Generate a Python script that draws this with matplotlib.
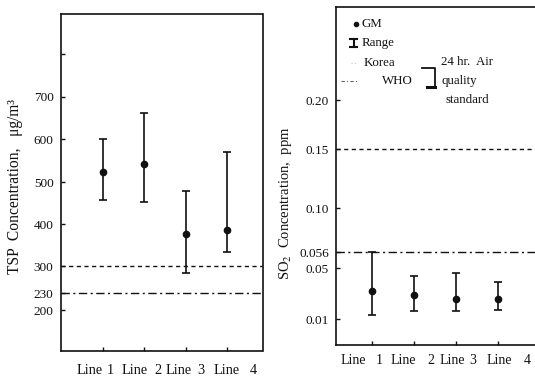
import numpy as np
import matplotlib
matplotlib.use('Agg')
import matplotlib.pyplot as plt
from matplotlib.lines import Line2D

# ---------------- data ----------------
lines = ['Line 1', 'Line 2', 'Line 3', 'Line 4']
tsp_gm = [523, 541, 376, 385]
tsp_min = [456, 452, 283, 333]
tsp_max = [600, 661, 478, 570]
tsp_korea = 300
tsp_who = 230
tsp_ticks = [200, 230, 300, 400, 500, 600, 700, 800]
tsp_ticklabels = ['200', '230', '300', '400', '500', '600', '700', '']

so2_gm = [0.032, 0.029, 0.026, 0.0255]
so2_min = [0.013, 0.016, 0.016, 0.017]
so2_max = [0.056, 0.044, 0.046, 0.039]
so2_korea = 0.15
so2_who = 0.056
so2_ticks = [0.01, 0.05, 0.056, 0.10, 0.15, 0.20]
so2_ticklabels = ['0.01', '0.05', '0.056', '0.10', '0.15', '0.20']

# ---------------- style ----------------
plt.rcParams['font.family'] = ['Liberation Serif', 'DejaVu Serif']
plt.rcParams['mathtext.fontset'] = 'stix'
INK = '#111111'
W, H = 535, 379

def F(px, py):
    return (px / W, 1 - py / H)

# hand-drawn (non-uniform) axis spacing of the original figure
tsp_knot_vals = [0, 200, 230, 300, 400, 500, 600, 700, 800, 1000]
tsp_knot_pos = [-15.5, 69, 86, 113, 155, 197, 240, 282, 325, 411]
so2_knot_vals = [-0.1, 0, 0.01, 0.05, 0.056, 0.10, 0.15, 0.20, 0.40]
so2_knot_pos = [-80, 47.25, 60, 111, 127, 171, 230, 279, 479]

def make_scale(vals, pos):
    vals = np.asarray(vals, float)
    pos = np.asarray(pos, float)
    fwd = lambda v: np.interp(v, vals, pos)
    inv = lambda p: np.interp(p, pos, vals)
    return fwd, inv

fig = plt.figure(figsize=(W / 100, H / 100), dpi=100)

axL = fig.add_axes([60.5 / W, (H - 351) / H, 202 / W, 337 / H])
axR = fig.add_axes([336 / W, (H - 345) / H, 204 / W, 338 / H])

x = np.arange(1, len(lines) + 1)

def draw(ax, gm, lo, hi, korea, who, ticks, ticklabels, knots, ylim, xlim):
    fwd, inv = make_scale(*knots)
    ax.set_yscale('function', functions=(fwd, inv))
    gm = np.asarray(gm); lo = np.asarray(lo); hi = np.asarray(hi)
    ax.errorbar(x, gm, yerr=[gm - lo, hi - gm], fmt='o', ms=4.5, color=INK,
                ecolor=INK, elinewidth=1.2, capsize=3, capthick=1.2, zorder=3)
    ax.axhline(korea, color=INK, lw=1.0, dashes=(3, 2.5))
    ax.axhline(who, color=INK, lw=1.0, dashes=(6, 2.5, 1.5, 2.5))
    ax.set_ylim(*ylim)
    ax.set_xlim(*xlim)
    ax.set_yticks(ticks)
    ax.set_yticklabels(ticklabels, fontsize=9.5, color=INK)
    ax.set_xticks(x)
    ax.set_xticklabels([])
    ax.tick_params(axis='both', direction='in', length=3, width=1, color=INK, pad=5)
    ax.tick_params(axis='y', which='minor', length=0)
    for s in ax.spines.values():
        s.set_linewidth(1.2)
        s.set_color(INK)

draw(axL, tsp_gm, tsp_min, tsp_max, tsp_korea, tsp_who, tsp_ticks, tsp_ticklabels,
     (tsp_knot_vals, tsp_knot_pos), (103, 893), (-0.027, 4.85))
draw(axR, so2_gm, so2_min, so2_max, so2_korea, so2_who, so2_ticks, so2_ticklabels,
     (so2_knot_vals, so2_knot_pos), (-0.0104, 0.293), (0.143, 5.0))
axR.spines['right'].set_visible(False)

# y-axis titles
fig.text(*F(15, 187), 'TSP  Concentration,   \u03bcg/m\u00b3', rotation=90,
         ha='center', va='center', fontsize=11.2, color=INK)
fig.text(*F(285, 203), r'SO$_2$  Concentration,  ppm', rotation=90,
         ha='center', va='center', fontsize=10.5, color=INK)

# category labels under the panels (spaced as in the original)
left_word_x = [77, 122, 166, 214]
left_digit_x = [110, 158, 201, 253]
right_word_x = [341, 391, 440, 487]
right_digit_x = [379, 431, 473, 527]
for lab, wx, dx in zip(lines, left_word_x, left_digit_x):
    word, num = lab.split()
    fig.text(*F(wx, 371), word, ha='left', va='center', fontsize=10.3, color=INK)
    fig.text(*F(dx, 371), num, ha='center', va='center', fontsize=10.3, color=INK)
for lab, wx, dx in zip(lines, right_word_x, right_digit_x):
    word, num = lab.split()
    fig.text(*F(wx, 360), word, ha='left', va='center', fontsize=10, color=INK)
    fig.text(*F(dx, 360), num, ha='center', va='center', fontsize=10, color=INK)

# legend (hand-built, as in the original)
def fline(xs, ys, **kw):
    pts = [F(a, b) for a, b in zip(xs, ys)]
    fig.add_artist(Line2D([p[0] for p in pts], [p[1] for p in pts],
                          transform=fig.transFigure, **kw))

fline([356], [24], marker='o', ms=3, color=INK, lw=0)
fig.text(*F(362, 24), 'GM', ha='left', va='center', fontsize=9.3, color=INK)
fline([353.5, 353.5], [39, 47], color=INK, lw=1.5)
fline([350, 357], [39, 39], color=INK, lw=1.5)
fline([350, 357], [47, 47], color=INK, lw=1.5)
fig.text(*F(362, 43), 'Range', ha='left', va='center', fontsize=9.3, color=INK)
fline([351, 357], [63, 63], color='#c8c8c8', lw=0.8, dashes=(1, 2))
fig.text(*F(364, 63), 'Korea', ha='left', va='center', fontsize=9.3, color=INK)
fline([341, 357], [81, 81], color='#666666', lw=0.8, dashes=(3, 2, 1, 2))
fig.text(*F(382, 81), 'WHO', ha='left', va='center', fontsize=9.3, color=INK)
fline([422, 435, 435], [68, 68, 87], color=INK, lw=1.3)
fline([427, 435], [87, 87], color=INK, lw=2.2)
fig.text(*F(441, 62), '24 hr.  Air', ha='left', va='center', fontsize=9.3, color=INK)
fig.text(*F(441, 81), 'quality', ha='left', va='center', fontsize=9.3, color=INK)
fig.text(*F(445, 100), 'standard', ha='left', va='center', fontsize=9.3, color=INK)

fig.savefig('out.png', dpi=100)
